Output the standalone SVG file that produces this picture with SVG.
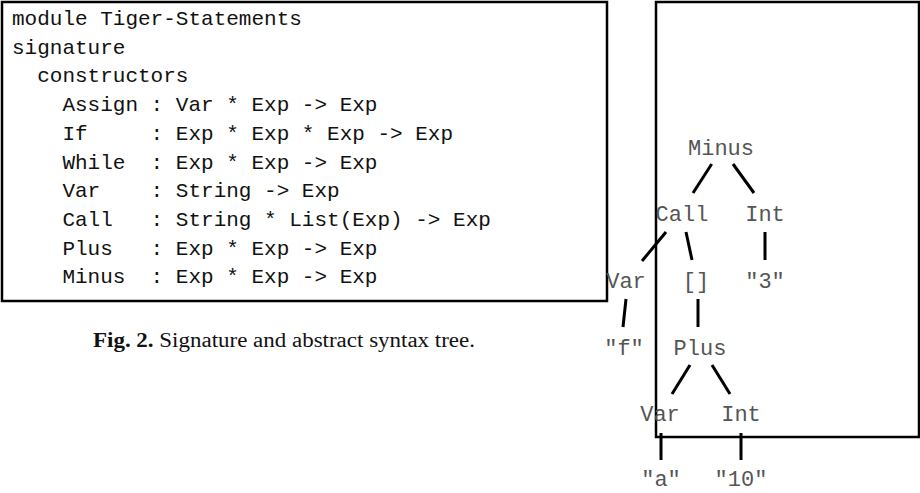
<svg xmlns="http://www.w3.org/2000/svg" width="920" height="493" viewBox="0 0 920 493">
<style>
.frame{fill:none;stroke:#000;stroke-width:2.5}
.code{font-family:"Liberation Mono","DejaVu Sans Mono",monospace;font-size:21px;fill:#111;white-space:pre}
.t{font-family:"Liberation Mono","DejaVu Sans Mono",monospace;font-size:22px;fill:#555;text-anchor:middle}
.edge{stroke:#000;stroke-width:3;fill:none}
.cap{font-family:"Liberation Serif","Times New Roman",serif;font-size:20px;fill:#111}
</style>
<rect width="920" height="493" fill="#fff"/>
<g id="signature">
<rect class="frame" x="2" y="2" width="605" height="299"/>
<text class="code" x="12" y="25" xml:space="preserve">module Tiger-Statements</text>
<text class="code" x="12" y="53.7" xml:space="preserve">signature</text>
<text class="code" x="12" y="82.4" xml:space="preserve">  constructors</text>
<text class="code" x="12" y="111.1" xml:space="preserve">    Assign : Var * Exp -&gt; Exp</text>
<text class="code" x="12" y="139.8" xml:space="preserve">    If     : Exp * Exp * Exp -&gt; Exp</text>
<text class="code" x="12" y="168.5" xml:space="preserve">    While  : Exp * Exp -&gt; Exp</text>
<text class="code" x="12" y="197.2" xml:space="preserve">    Var    : String -&gt; Exp</text>
<text class="code" x="12" y="225.9" xml:space="preserve">    Call   : String * List(Exp) -&gt; Exp</text>
<text class="code" x="12" y="254.6" xml:space="preserve">    Plus   : Exp * Exp -&gt; Exp</text>
<text class="code" x="12" y="283.3" xml:space="preserve">    Minus  : Exp * Exp -&gt; Exp</text>
</g>
<g id="tree-frame">
<rect class="frame" x="656" y="2" width="263" height="435"/>
</g>
<text class="cap" x="93" y="347" textLength="382" lengthAdjust="spacingAndGlyphs"><tspan font-weight="bold">Fig. 2.</tspan> Signature and abstract syntax tree.</text>
<g id="connectors">
<line class="edge" x1="711.7" y1="164" x2="693" y2="193"/>
<line class="edge" x1="733" y1="164" x2="754" y2="193"/>
<line class="edge" x1="666" y1="232" x2="642" y2="261"/>
<line class="edge" x1="686" y1="232" x2="692" y2="260"/>
<line class="edge" x1="765" y1="232" x2="765" y2="260"/>
<line class="edge" x1="626" y1="299" x2="623" y2="327"/>
<line class="edge" x1="698" y1="299" x2="698" y2="327"/>
<line class="edge" x1="690" y1="365" x2="672" y2="394"/>
<line class="edge" x1="712" y1="365" x2="730" y2="394"/>
<line class="edge" x1="661" y1="433" x2="661" y2="460"/>
<line class="edge" x1="741" y1="433" x2="741" y2="460"/>
</g>
<g id="n-minus"><text class="t" x="721" y="155">Minus</text></g>
<g id="n-call"><text class="t" x="682" y="221">Call</text></g>
<g id="n-int1"><text class="t" x="765" y="221">Int</text></g>
<g id="n-var1"><text class="t" x="626" y="288">Var</text></g>
<g id="n-list"><text class="t" x="696" y="288">[]</text></g>
<g id="n-3"><text class="t" x="765" y="288">"3"</text></g>
<g id="n-f"><text class="t" x="624" y="355">"f"</text></g>
<g id="n-plus"><text class="t" x="700" y="355">Plus</text></g>
<g id="n-var2"><text class="t" x="660" y="421">Var</text></g>
<g id="n-int2"><text class="t" x="741" y="421">Int</text></g>
<g id="n-a"><text class="t" x="661" y="486">"a"</text></g>
<g id="n-10"><text class="t" x="741" y="486">"10"</text></g>
</svg>
